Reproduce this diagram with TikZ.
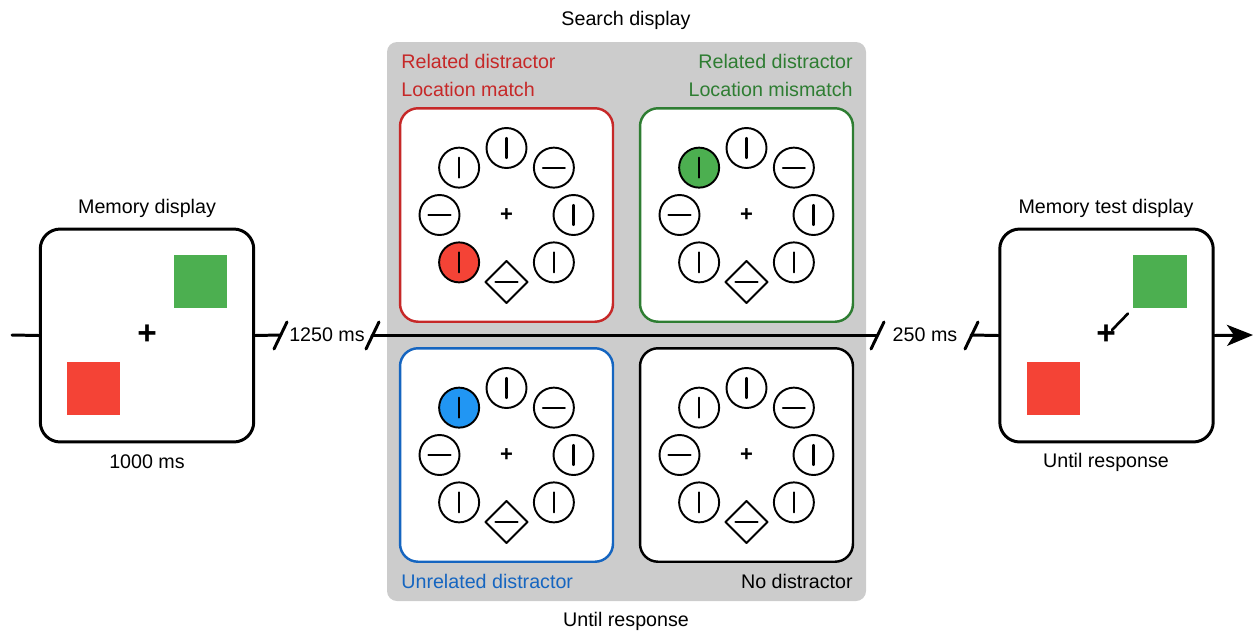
\documentclass[tikz,border=0pt]{standalone}
\usepackage{fontspec}
\setmainfont{Liberation Sans}
\usetikzlibrary{calc,shapes.geometric,arrows.meta}
\definecolor{cred}{HTML}{C62828}
\definecolor{cgreen}{HTML}{2E7D32}
\definecolor{cblue}{HTML}{1565C0}
\definecolor{fred}{HTML}{F44336}
\definecolor{fgreen}{HTML}{4CAF50}
\definecolor{fblue}{HTML}{2196F3}
\begin{document}
\begin{tikzpicture}[x=0.02cm, y=-0.02cm, font=\fontsize{11.2}{13}\selectfont, line join=round, line cap=round,
    screen/.style={draw, line width=1.7pt, rounded corners=0.4cm, minimum width=4.27cm, minimum height=4.26cm, fill=white},
    panel/.style={draw, line width=1.4pt, rounded corners=0.36cm, minimum width=4.26cm, minimum height=4.27cm, fill=white},
    patch/.style={minimum size=1.07cm, inner sep=0pt},
    item/.style={circle, draw, line width=1.1pt, minimum size=0.8cm, inner sep=0pt},
    target/.style={diamond, draw, line width=1.1pt, minimum size=0.86cm, inner sep=0pt},
    bar/.style={line width=1.2pt},
    bigfix/.style={font=\fontsize{19}{19}\selectfont\bfseries, inner sep=0pt},
    fix/.style={font=\fontsize{12.5}{12}\selectfont\bfseries, inner sep=0pt},
    timeline/.style={line width=1.7pt},
    brk/.style={line width=1.7pt}]
    \useasboundingbox (0,0) rectangle (1255,633);

    % search display background
    \fill[black!20, rounded corners=0.2cm] (387,42) rectangle (866,601);
    \node at (626,20) {Search display};
    \node at (626,621) {Until response};

    \path
    (12,335) coordinate (start)
    (280,335) coordinate (b1)
    (372,335) coordinate (b2)
    (877,335) coordinate (b3)
    (971,335) coordinate (b4)
    (1253,335) coordinate (end)
    ;

    % memory display
    \node[screen] (mem) at (147,335.5) {};
    \node[patch, fill=fgreen] (mgreen) at (200.5,281.5) {};
    \node[patch, fill=fred] (mred) at (93.5,388.5) {};
    \node[bigfix] (mfix) at (147,335) {+};
    \node at (147,208) {Memory display};
    \node at (147,462) {1000 ms};

    % memory test display
    \node[screen] (test) at (1106.5,335.5) {};
    \node[patch, fill=fgreen] (tgreen) at (1160,281.5) {};
    \node[patch, fill=fred] (tred) at (1053.5,388.5) {};
    \node[bigfix] (tfix) at (1106,335) {+};
    \draw[line width=1.5pt] ([shift={(6,-5)}]tfix.center) -- ([shift={(-5,5)}]tgreen.south west);
    \node at (1106,208) {Memory test display};
    \node at (1106,462) {Until response};

    % time line
    \draw[timeline] (start) -- (mem.west);
    \draw[timeline] (mem.east) -- (b1);
    \draw[timeline] (b2) -- (b3);
    \draw[timeline] (b4) -- (test.west);
    \draw[timeline, -{Stealth[length=0.52cm, width=0.42cm, inset=0.14cm]}] (test.east) -- (end);
    \foreach \b in {b1,b2,b3,b4}{
        \draw[brk] ([shift={(-6,14)}]\b) -- ([shift={(7,-13)}]\b);
    }
    \node at (327,335) {1250 ms};
    \node at (925,335) {250 ms};

    % search panels
    \node[panel, draw=cred] (match) at (506.5,215) {};
    \node[panel, draw=cgreen] (mismatch) at (746.5,215) {};
    \node[panel, draw=cblue] (unrel) at (506.5,455) {};
    \node[panel] (nodist) at (746.5,455) {};

    \foreach \p/\fa/\fc in {match/135/fred, mismatch/-135/fgreen, unrel/-135/fblue, nodist/999/white}{
        \node[fix] (\p-fix) at (\p) {+};
        \foreach \a in {-90,-45,0,45,135,180,-135}{
            \def\ic{white}
            \ifnum\a=\fa \def\ic{\fc}\fi
            \node[item, fill=\ic] (\p-\a) at ($(\p)+(\a:67)$) {};
        }
        \node[target] (\p-t) at ($(\p)+(90:67)$) {};
        \foreach \a in {-90,0,45,135,-135}{
            \draw[bar] ([shift={(0,-10)}]\p-\a.center) -- ([shift={(0,10)}]\p-\a.center);
        }
        \foreach \a in {-45,180}{
            \draw[bar] ([shift={(-11,0)}]\p-\a.center) -- ([shift={(11,0)}]\p-\a.center);
        }
        \draw[bar] ([shift={(-11,0)}]\p-t.center) -- ([shift={(11,0)}]\p-t.center);
    }

    % panel labels
    \node[anchor=west, text=cred, inner xsep=0pt] at (401,61) {Related distractor};
    \node[anchor=west, text=cred, inner xsep=0pt] at (401,89) {Location match};
    \node[anchor=east, text=cgreen, inner xsep=0pt] at (853,61) {Related distractor};
    \node[anchor=east, text=cgreen, inner xsep=0pt] at (853,89) {Location mismatch};
    \node[anchor=west, text=cblue, inner xsep=0pt] at (401,581) {Unrelated distractor};
    \node[anchor=east, inner xsep=0pt] at (853,581) {No distractor};
\end{tikzpicture}
\end{document}
